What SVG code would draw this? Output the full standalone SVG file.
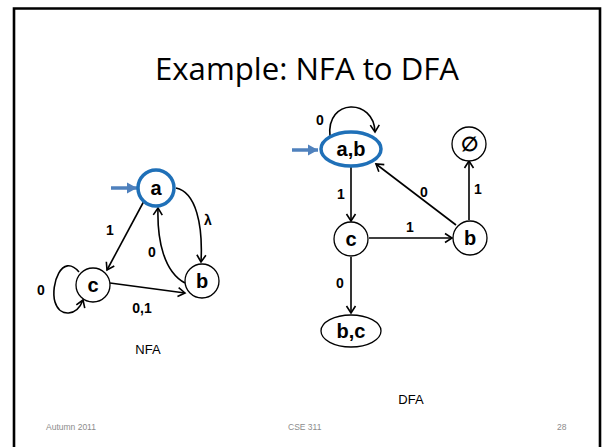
<svg xmlns="http://www.w3.org/2000/svg" width="602" height="447" viewBox="0 0 602 447">
  <style>
    .state { fill: #ffffff; stroke: #000000; stroke-width: 1.3; }
    .start { fill: #ffffff; stroke: #1f70b8; stroke-width: 3.5; }
    .name { font-family: "Liberation Sans", Arial, sans-serif; font-weight: bold; font-size: 20px; text-anchor: middle; fill: #000000; }
    .edge { fill: none; stroke: #000000; stroke-width: 1.6; marker-end: url(#open); }
    .entry { fill: none; stroke: #4f81bd; stroke-width: 3.5; marker-end: url(#solid); }
    .lbl { font-family: "Liberation Sans", Arial, sans-serif; font-weight: bold; font-size: 14px; text-anchor: middle; fill: #000000; }
    .cap { font-family: "Liberation Sans", Arial, sans-serif; font-size: 13px; text-anchor: middle; fill: #000000; }
    .foot { font-family: "Liberation Sans", Arial, sans-serif; font-size: 8.5px; fill: #8c8c8c; }
  </style>
  <defs>
    <marker id="open" markerUnits="userSpaceOnUse" markerWidth="12" markerHeight="12" refX="9" refY="6" orient="auto">
      <path d="M2,1.5 L9,6 L2,10.5" fill="none" stroke="#000000" stroke-width="1.6"/>
    </marker>
    <marker id="solid" markerUnits="userSpaceOnUse" markerWidth="12" markerHeight="12" refX="10" refY="6" orient="auto">
      <path d="M0,0.5 L10,6 L0,11.5 Z" fill="#4f81bd"/>
    </marker>
  </defs>

  <rect width="602" height="447" fill="#ffffff"/>
  <!-- slide frame -->
  <path d="M14,460 L14,8.5 L600,8.5 L600,460" fill="none" stroke="#000000" stroke-width="2.6"/>

  <text x="307" y="80" font-family="'Open Sans', 'Liberation Sans', sans-serif" font-size="31" text-anchor="middle" textLength="304" lengthAdjust="spacingAndGlyphs" fill="#000000">Example: NFA to DFA</text>

  <g id="connectors">
    <!-- NFA -->
    <line class="entry" x1="111" y1="188" x2="137" y2="188"/>
    <line class="edge" x1="144" y1="201" x2="107" y2="270"/>
    <path class="edge" d="M176,188 C196,192 203,225 201,262"/>
    <path class="edge" d="M185,283 C164,272 157,240 158,208"/>
    <line class="edge" x1="110" y1="283" x2="185" y2="293"/>
    <path class="edge" d="M79,272 C62,252 50,285 55,302 C60,318 77,316 83,300"/>
    <!-- DFA -->
    <line class="entry" x1="292" y1="150" x2="318" y2="150"/>
    <path class="edge" d="M330,136 C326,98 374,98 375,132"/>
    <line class="edge" x1="351" y1="166" x2="351" y2="221"/>
    <line class="edge" x1="369" y1="238" x2="452" y2="238"/>
    <line class="edge" x1="456" y1="225" x2="376" y2="164"/>
    <line class="edge" x1="469" y1="220" x2="469" y2="161"/>
    <line class="edge" x1="351" y1="257" x2="351" y2="313"/>
  </g>

  <g id="edge-labels">
    <text class="lbl" x="110" y="235">1</text>
    <text class="lbl" x="208" y="225">λ</text>
    <text class="lbl" x="152" y="257">0</text>
    <text class="lbl" x="142" y="313">0,1</text>
    <text class="lbl" x="41" y="295">0</text>
    <text class="lbl" x="320" y="125">0</text>
    <text class="lbl" x="341" y="199">1</text>
    <text class="lbl" x="424" y="197">0</text>
    <text class="lbl" x="410" y="232">1</text>
    <text class="lbl" x="478" y="194">1</text>
    <text class="lbl" x="340" y="288">0</text>
  </g>

  <!-- NFA states -->
  <g id="nfa-a">
    <circle class="start" cx="156" cy="188" r="18"/>
    <text class="name" x="156" y="195">a</text>
  </g>
  <g id="nfa-b">
    <circle class="state" cx="202" cy="281" r="17"/>
    <text class="name" x="202" y="288">b</text>
  </g>
  <g id="nfa-c">
    <circle class="state" cx="93" cy="285" r="17"/>
    <text class="name" x="93" y="292">c</text>
  </g>

  <!-- DFA states -->
  <g id="dfa-ab">
    <ellipse class="start" cx="351" cy="149" rx="30" ry="17"/>
    <text class="name" x="351" y="156">a,b</text>
  </g>
  <g id="dfa-c">
    <circle class="state" cx="351" cy="239" r="17"/>
    <text class="name" x="351" y="246">c</text>
  </g>
  <g id="dfa-b">
    <circle class="state" cx="470" cy="238" r="17"/>
    <text class="name" x="470" y="245">b</text>
  </g>
  <g id="dfa-empty">
    <circle class="state" cx="469" cy="144" r="17"/>
    <text class="name" x="469" y="151">∅</text>
  </g>
  <g id="dfa-bc">
    <ellipse class="state" cx="351" cy="331" rx="30" ry="16"/>
    <text class="name" x="351" y="338">b,c</text>
  </g>

  <text class="cap" x="148" y="354">NFA</text>
  <text class="cap" x="411" y="404">DFA</text>

  <text class="foot" x="46" y="430">Autumn 2011</text>
  <text class="foot" x="288" y="430">CSE 311</text>
  <text class="foot" x="557" y="430">28</text>
</svg>
